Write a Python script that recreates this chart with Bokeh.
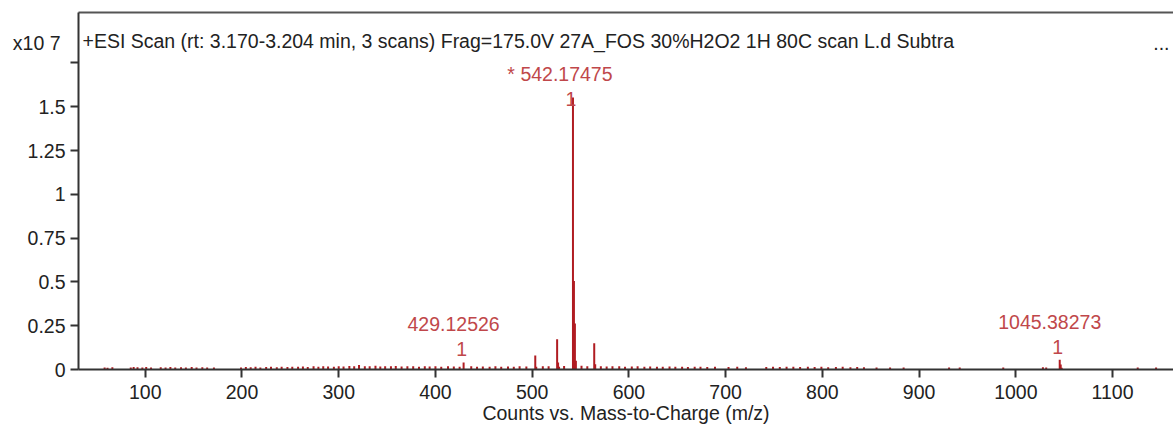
from bokeh.plotting import figure
from bokeh.models import ColumnDataSource, FixedTicker, LinearAxis, Label, Range1d
from bokeh.core.properties import value
from bokeh.embed import file_html
from bokeh.resources import INLINE

# ---- data (intensity in units of 1e7 counts) ----
peak_mz = [429.12526, 503.2, 504.2, 525.8, 526.8, 527.8, 542.17475, 543.18, 544.18, 545.19, 564.15, 565.16, 1031.4, 1045.38273, 1046.39, 1047.39]
peak_int = [0.040, 0.080, 0.015, 0.172, 0.040, 0.015, 1.553, 0.505, 0.262, 0.050, 0.150, 0.030, 0.012, 0.055, 0.028, 0.010]

noise_mz = [58, 61, 66, 85, 88, 92, 97, 101, 106, 116, 121, 126, 131, 137, 142, 148, 153, 159, 164, 171,
            199, 204, 209, 214, 219, 225, 230, 236, 241, 247, 252, 258, 263, 268, 274, 279, 284, 289, 295,
            300, 305, 311, 316, 321, 327, 332, 338, 343, 348, 354, 359, 365, 371, 377, 383, 389, 394, 400,
            406, 413, 419, 425, 437, 443, 449, 456, 462, 468, 475, 481, 487, 494, 511, 517, 533, 551, 557,
            571, 577, 583, 590, 596, 603, 609, 616, 622, 629, 635, 642, 648, 655, 661, 668, 674, 681, 689,
            703, 712, 721, 742, 749, 756, 763, 770, 777, 785, 792, 799, 806, 814, 821, 829, 836, 843, 856,
            870, 884, 931, 942, 987, 1028, 1126, 1145]
noise_int = [0.012, 0.010, 0.013, 0.012, 0.014, 0.013, 0.012, 0.014, 0.011, 0.013, 0.012, 0.014, 0.012, 0.013, 0.011, 0.014, 0.012, 0.013, 0.012, 0.011,
             0.012, 0.014, 0.013, 0.015, 0.012, 0.014, 0.016, 0.013, 0.015, 0.014, 0.016, 0.015, 0.017, 0.014, 0.018, 0.016, 0.019, 0.017, 0.016,
             0.018, 0.017, 0.020, 0.018, 0.026, 0.019, 0.018, 0.021, 0.017, 0.019, 0.018, 0.020, 0.017, 0.019, 0.018, 0.016, 0.018, 0.017, 0.019,
             0.016, 0.018, 0.017, 0.016, 0.018, 0.016, 0.017, 0.015, 0.018, 0.016, 0.017, 0.016, 0.018, 0.017, 0.019, 0.018, 0.020, 0.022, 0.019,
             0.018, 0.017, 0.019, 0.018, 0.016, 0.017, 0.018, 0.016, 0.017, 0.015, 0.016, 0.017, 0.015, 0.016, 0.014, 0.016, 0.015, 0.014, 0.015,
             0.014, 0.015, 0.013, 0.014, 0.015, 0.014, 0.016, 0.015, 0.014, 0.015, 0.014, 0.015, 0.013, 0.014, 0.015, 0.013, 0.014, 0.013, 0.012,
             0.012, 0.011, 0.012, 0.011, 0.012, 0.013, 0.011, 0.011]

label_mz = [429.12526, 1045.38273]
label_int = [0.040, 0.055]
label_text = ["429.12526", "1045.38273"]
main_label = "* 542.17475"

y_ticks = [0, 0.25, 0.5, 0.75, 1, 1.25, 1.5, 1.75]
x_ticks = [100, 200, 300, 400, 500, 600, 700, 800, 900, 1000, 1100]
scale_text = "x10 7"

title_text = "+ESI Scan (rt: 3.170-3.204 min, 3 scans) Frag=175.0V 27A_FOS 30%H2O2 1H 80C scan L.d  Subtra"
x_label = "Counts vs. Mass-to-Charge (m/z)"

FONT = "Liberation Sans"
RED = "#b01c22"
TXT_RED = "#c0474a"
FS = "19.5px"
YTOP = 2.038
SCALE_Y = 1.865

p = figure(width=1173, height=428, output_backend="svg", toolbar_location=None,
           x_range=Range1d(31, 1163), y_range=Range1d(0, YTOP),
           min_border_left=78, min_border_right=0, min_border_top=12, min_border_bottom=59)
p.outline_line_color = None
p.grid.visible = False
p.background_fill_color = "white"

# baseline and noise
p.segment(x0=noise_mz, y0=[0] * len(noise_mz), x1=noise_mz, y1=noise_int, line_color=RED, line_width=2)
p.segment(x0=peak_mz, y0=[0] * len(peak_mz), x1=peak_mz, y1=peak_int, line_color=RED, line_width=2)

# annotations
src = ColumnDataSource(dict(x=label_mz, y=label_int, t=label_text, one=["1"] * len(label_mz)))
p.text(x="x", y="y", text="t", source=src, text_align="center", text_baseline="middle",
       x_offset=-10, y_offset=-38, text_color=TXT_RED, text_font=value(FONT), text_font_size=FS)
p.text(x="x", y="y", text="one", source=src, text_align="center", text_baseline="middle",
       x_offset=-2, y_offset=-13, text_color=TXT_RED, text_font=value(FONT), text_font_size=FS)
src2 = ColumnDataSource(dict(x=[peak_mz[6]], y=[peak_int[6]], t=[main_label], one=["1"]))
p.text(x="x", y="y", text="t", source=src2, text_align="center", text_baseline="middle",
       x_offset=-13, y_offset=-23, text_color=TXT_RED, text_font=value(FONT), text_font_size=FS)
p.text(x="x", y="y", text="one", source=src2, text_align="center", text_baseline="middle",
       x_offset=-2, y_offset=2, text_color=TXT_RED, text_font=value(FONT), text_font_size=FS)

# axes
for ax in (p.xaxis[0], p.yaxis[0]):
    ax.axis_line_color = "#333333"
    ax.axis_line_width = 2
    ax.major_tick_line_color = "#333333"
    ax.major_tick_line_width = 2
    ax.major_tick_out = 8
    ax.major_tick_in = 0
    ax.minor_tick_line_color = None
    ax.major_label_text_font = FONT
    ax.major_label_text_font_size = FS
    ax.major_label_text_color = "#222222"

p.xaxis.ticker = FixedTicker(ticks=x_ticks)
p.yaxis.ticker = FixedTicker(ticks=y_ticks)
p.yaxis.major_label_overrides = {1.75: ""}
p.yaxis.major_label_standoff = 5
p.xaxis.major_label_standoff = 7
p.xaxis.axis_label = x_label
p.xaxis.axis_label_text_font = FONT
p.xaxis.axis_label_text_font_style = "normal"
p.xaxis.axis_label_text_font_size = FS
p.xaxis.axis_label_text_color = "#222222"
p.xaxis.axis_label_standoff = 0

# top frame line: an unlabelled axis above the frame
top_ax = LinearAxis(ticker=FixedTicker(ticks=[x_ticks[0]]), major_label_overrides={x_ticks[0]: ""},
                    axis_line_color="#555555", axis_line_width=2,
                    major_tick_line_color=None, minor_tick_line_color=None,
                    major_tick_out=0, major_tick_in=0, major_label_standoff=0,
                    major_label_text_font_size="1px")
p.add_layout(top_ax, "above")

# exponent marker "x10 7" as an extra left axis carrying a single label
scale_ax = LinearAxis(ticker=FixedTicker(ticks=[SCALE_Y]), major_label_overrides={SCALE_Y: scale_text},
                      axis_line_color=None, major_tick_line_color=None, minor_tick_line_color=None,
                      major_tick_out=0, major_tick_in=0, major_label_standoff=-36,
                      major_label_text_font=FONT, major_label_text_font_size=FS,
                      major_label_text_color="#222222")
p.add_layout(scale_ax, "left")

p.add_layout(Label(x=31, y=YTOP, x_offset=4, y_offset=-28, text=title_text, text_font=FONT,
                   text_font_size=FS, text_color="#222222", text_baseline="middle"))
p.add_layout(Label(x=1163, y=YTOP, x_offset=-4, y_offset=-30, text="...", text_font=FONT,
                   text_font_size=FS, text_color="#222222", text_baseline="middle", text_align="right"))

open("out.html", "w").write(file_html(p, INLINE))
